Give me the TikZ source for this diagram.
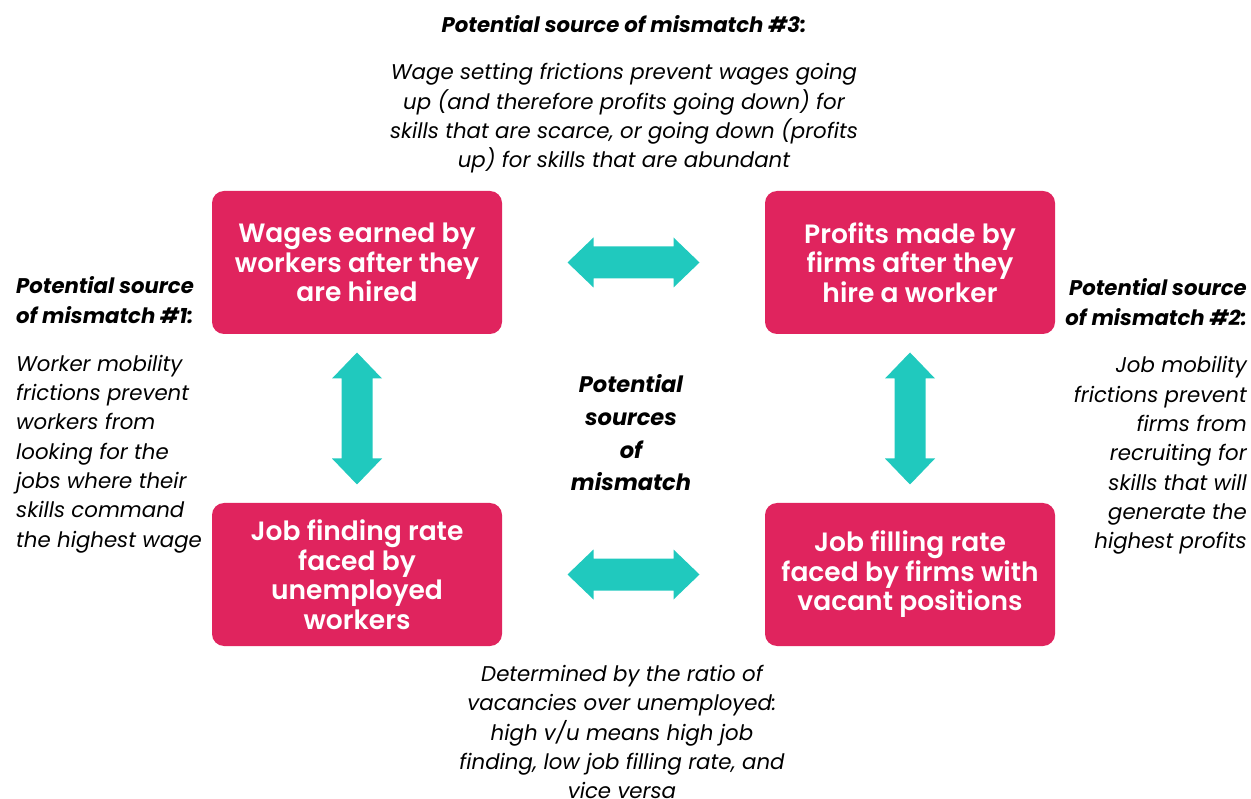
\documentclass[tikz,border=0pt]{standalone}
\usepackage{fontspec}
\setmainfont{Poppins}
\newfontfamily\boxfont{Poppins SemiBold}
\usetikzlibrary{calc}
\definecolor{boxpink}{HTML}{E0245E}
\definecolor{arrteal}{HTML}{20C9BE}
\newcommand\myharrow[1]{%
  \fill[arrteal,shift={(#1)}] (-66,0) -- (-40,-25) -- (-40,-16) -- (40,-16) -- (40,-25) -- (66,0) -- (40,25) -- (40,16) -- (-40,16) -- (-40,25) -- cycle;}
\newcommand\myvarrow[1]{%
  \fill[arrteal,shift={(#1)}] (0,-66) -- (-25,-40) -- (-15.5,-40) -- (-15.5,40) -- (-25,40) -- (0,66) -- (25,40) -- (15.5,40) -- (15.5,-40) -- (25,-40) -- cycle;}
\begin{document}
\begin{tikzpicture}[x=1pt,y=-1pt,
  box/.style={fill=boxpink, rounded corners=12pt, minimum width=290pt, minimum height=143pt,
    text=white, font=\boxfont\fontsize{26.5}{29.5}\selectfont, align=center, inner sep=0pt},
  para/.style={font=\itshape\fontsize{21.3}{29.3}\selectfont, inner sep=0pt},
  ttl/.style={font=\bfseries\itshape\fontsize{21.2}{30}\selectfont, inner sep=0pt}]
\useasboundingbox (0,0) rectangle (1251,799);
\clip (0,0) rectangle (1251,799);

\node[box] (wages) at (357,262.5) {Wages earned by\\workers after they\\are hired};
\node[box] (profits) at (910,262.5) {Profits made by\\firms after they\\hire a worker};
\node[box] (finding) at (357,574.5) {Job finding rate\\faced by\\unemployed\\workers};
\node[box] (filling) at (910,574.5) {Job filling rate\\faced by firms with\\vacant positions};

\coordinate (htop) at ($(wages.east)!0.5!(profits.west)$);
\coordinate (hbot) at ($(finding.east)!0.5!(filling.west)$);
\coordinate (vleft) at ($(wages.south)!0.5!(finding.north)$);
\coordinate (vright) at ($(profits.south)!0.5!(filling.north)$);
\myharrow{htop}
\myharrow{hbot}
\myvarrow{vleft}
\myvarrow{vright}

\node[ttl] (t3) at (624,24) {Potential source of mismatch \#3:};
\node[para, align=center] (p3) at (624,118.5) {Wage setting frictions prevent wages going\\up (and therefore profits going down) for\\skills that are scarce, or going down (profits\\up) for skills that are abundant};

\node[ttl, align=left, anchor=west] (t1) at (16,300.5) {Potential source\\of mismatch \#1:};
\node[para, align=left, anchor=west] (p1) at (16,454) {Worker mobility\\frictions prevent\\workers from\\looking for the\\jobs where their\\skills command\\the highest wage};

\node[ttl, align=right, anchor=east] (t2) at (1247,302) {Potential source\\of mismatch \#2:};
\node[para, align=right, anchor=east] (p2) at (1247,455.5) {Job mobility\\frictions prevent\\firms from\\recruiting for\\skills that will\\generate the\\highest profits};

\node[ttl, align=center, font=\bfseries\itshape\fontsize{22.5}{32.7}\selectfont] (mid) at (631,433) {Potential\\sources\\of\\mismatch};

\node[para, align=center] (pb) at (622,732) {Determined by the ratio of\\vacancies over unemployed:\\high v/u means high job\\finding, low job filling rate, and\\vice versa};
\end{tikzpicture}
\end{document}
